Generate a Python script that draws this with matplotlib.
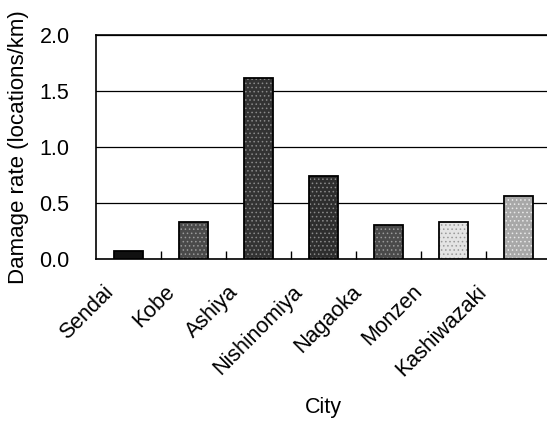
import numpy as np
import matplotlib.pyplot as plt
import matplotlib.transforms as mtransforms
from matplotlib.ticker import FixedLocator

plt.rcParams['font.family'] = ['Liberation Sans', 'DejaVu Sans']
plt.rcParams['hatch.linewidth'] = 0.6

cities = ['Sendai', 'Kobe', 'Ashiya', 'Nishinomiya', 'Nagaoka', 'Monzen', 'Kashiwazaki']
damage_rate = [0.07, 0.33, 1.62, 0.74, 0.30, 0.33, 0.56]
fills = ['#111111', '#4a4a4a', '#333333', '#2e2e2e', '#4a4a4a', '#e4e4e4', '#a8a8a8']
speckle = ['#111111', '#9a9a9a', '#8a8a8a', '#8a8a8a', '#9a9a9a', '#9a9a9a', '#e8e8e8']

fs = 15.5

fig = plt.figure(figsize=(5.47, 4.21), dpi=100)
ax = fig.add_axes([96/547, 162/421, 1 - 96/547, 224/421])

x = np.arange(len(cities))
w = 0.44
# stippled fill first, outline on top
ax.bar(x, damage_rate, width=w, color=fills, edgecolor=speckle, hatch='....', lw=0, zorder=3)
ax.bar(x, damage_rate, width=w, fill=False, edgecolor='black', lw=1.3, zorder=4)

ax.set_xlim(-0.5, 6.44)
ax.set_ylim(0, 2.0)
ax.set_yticks([0, 0.5, 1.0, 1.5, 2.0])
ax.set_yticklabels(['0.0', '0.5', '1.0', '1.5', '2.0'], fontsize=fs)
ax.yaxis.grid(True, color='black', lw=0.9)
ax.set_axisbelow(True)
ax.tick_params(axis='y', length=0, pad=19)

ax.set_xticks(x)
ax.set_xticklabels(cities, fontsize=fs, rotation=45, ha='right', rotation_mode='anchor')
ax.tick_params(axis='x', which='major', length=0, pad=16)
ax.xaxis.set_minor_locator(FixedLocator(x[:-1] + 0.5))
ax.tick_params(axis='x', which='minor', direction='in', length=6, width=1)
# labels sit a little left of their bars, drifting more to the right
label_shift_px = [26, 29, 31, 32, 37, 42, 42]
for lab, dx in zip(ax.get_xticklabels(), label_shift_px):
    shift = mtransforms.ScaledTranslation(-dx / 100, 0, fig.dpi_scale_trans)
    lab.set_transform(lab.get_transform() + shift)

for s in ['left', 'bottom', 'top']:
    ax.spines[s].set_linewidth(1.2)
ax.spines['right'].set_visible(False)

ax.set_ylabel('Damage rate (locations/km)', fontsize=16, va='center')
ax.yaxis.set_label_coords(-0.172, 0.5)
ax.set_xlabel('City', fontsize=fs)
ax.xaxis.set_label_coords(0.505, -0.615)

fig.savefig('out.png', dpi=100)
